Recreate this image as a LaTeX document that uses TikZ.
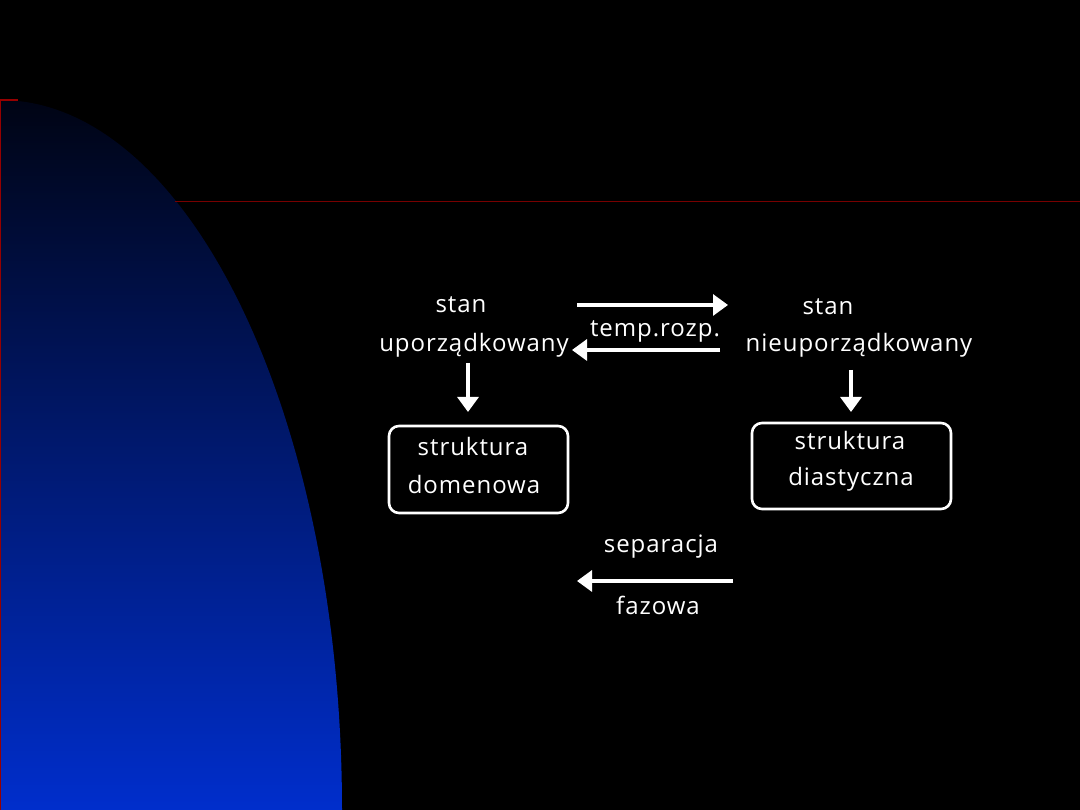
\documentclass[tikz,border=0pt]{standalone}
\usepackage{fontspec}
\setmainfont{Open Sans}
\newfontfamily\lblfont[LetterSpace=4]{Open Sans}
\usetikzlibrary{arrows.meta}
\definecolor{darkred}{RGB}{150,0,0}
\definecolor{bluetop}{RGB}{0,4,20}
\definecolor{bluebot}{RGB}{0,46,204}
\tikzset{
  lbl/.style={text=white, font=\lblfont\fontsize{24}{28}\selectfont, inner sep=0pt},
  arr/.style={draw=white, line width=3.2pt, -{Triangle[length=15pt,width=21pt]}},
  box/.style={draw=white, line width=2.6pt, rounded corners=10pt}
}
\begin{document}
\begin{tikzpicture}[x=1pt,y=1pt]
\fill[black] (0,0) rectangle (1080,810);
\useasboundingbox (0,0) rectangle (1080,810);
% blue gradient quarter ellipse
\shade[top color=bluetop, bottom color=bluebot]
  (0,0) -- (0,710) arc[start angle=90, end angle=0, x radius=342, y radius=710] -- cycle;
% red lines
\draw[darkred, line width=1.2pt] (0.6,0) -- (0.6,710) -- (18,710);
\draw[darkred!80!black, line width=0.8pt] (175,609) -- (1080,609);
% texts
\node[lbl] (s1) at (461,505) {stan};
\node[lbl] (u1) at (474,465) {uporządkowany};
\node[lbl] (s2) at (828,503) {stan};
\node[lbl] (u2) at (859,465) {nieuporządkowany};
\node[lbl] (tr) at (655,479) {temp.rozp.};
% boxes
\node[box, minimum width=179pt, minimum height=87pt] (b1) at (478.5,340.5) {};
\node[lbl] (b1a) at (473,363) {struktura};
\node[lbl] (b1b) at (474,325) {domenowa};
\node[box, minimum width=199pt, minimum height=86pt] (b2) at (851.5,344) {};
\node[lbl] (b2a) at (850,369) {struktura};
\node[lbl] (b2b) at (851,331) {diastyczna};
\node[lbl] (sp) at (661,263) {separacja};
\node[lbl] (fz) at (658,205) {fazowa};
% arrow coordinates
\coordinate (r1s) at (577,505);
\coordinate (r1e) at (728,505);
\coordinate (l1s) at (720,460);
\coordinate (l1e) at (572,460);
\coordinate (d1s) at (468,447);
\coordinate (d1e) at (468,398);
\coordinate (d2s) at (851,440);
\coordinate (d2e) at (851,398);
\coordinate (l2s) at (733,229);
\coordinate (l2e) at (577,229);
\draw[arr] (r1s) -- (r1e);
\draw[arr] (l1s) -- (l1e);
\draw[arr] (d1s) -- (d1e);
\draw[arr] (d2s) -- (d2e);
\draw[arr] (l2s) -- (l2e);
\end{tikzpicture}
\end{document}
